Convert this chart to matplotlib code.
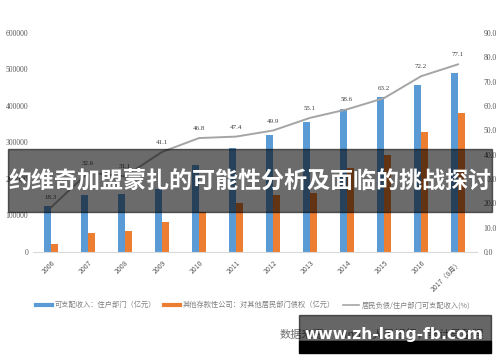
import matplotlib
matplotlib.use('Agg')
import matplotlib.pyplot as plt
from matplotlib.lines import Line2D
from matplotlib.patches import Rectangle

plt.rcParams['font.family'] = ['Noto Sans CJK SC', 'DejaVu Sans']

years = ['2006', '2007', '2008', '2009', '2010', '2011', '2012', '2013',
         '2014', '2015', '2016', '2017（8月）']
income = [126000, 156000, 158000, 172000, 238000, 285000, 320000, 356000,
          392000, 425000, 457000, 490000]
claims = [22000, 52000, 57000, 82000, 110000, 134000, 156000, 162000,
          230000, 266000, 329000, 380000]
ratio = [18.3, 32.6, 31.1, 41.1, 46.8, 47.4, 49.9, 55.1, 58.6, 63.2, 72.2, 77.1]

leg_labels = ['可支配收入：住户部门（亿元）',
              '其他存款性公司：对其他居民部门债权（亿元）',
              '居民负债/住户部门可支配收入(%)']
title = '约维奇加盟蒙扎的可能性分析及面临的挑战探讨'

blue = '#5b9bd5'
orange = '#ed7d31'
grey = '#a5a5a5'
tick_c = '#595959'
serif = ['Liberation Serif', 'DejaVu Serif']

fig = plt.figure(figsize=(5, 3.62), dpi=100)
ax = fig.add_axes([0.065, 0.304, 0.888, 0.605])
x = list(range(len(years)))
w = 0.19
ax.bar([i - w / 2 for i in x], income, width=w, color=blue, zorder=2)
ax.bar([i + w / 2 for i in x], claims, width=w, color=orange, zorder=2)
ax.set_xlim(-0.5, len(years) - 0.5)
ax.set_ylim(0, 600000)
ax.set_yticks(range(0, 600001, 100000))
ax.set_yticklabels([str(v) for v in range(0, 600001, 100000)],
                   fontsize=5.5, color=tick_c, family=serif)
ax.tick_params(axis='y', length=0, pad=3)
ax.set_xticks(x)
ax.set_xticklabels(years, rotation=45, ha='right', rotation_mode='anchor',
                   fontsize=5, color=tick_c, family=['Noto Sans CJK SC'])
ax.tick_params(axis='x', length=0, pad=5)
for s in ['top', 'left', 'right']:
    ax.spines[s].set_visible(False)
ax.spines['bottom'].set_color('#d9d9d9')
ax.spines['bottom'].set_linewidth(0.8)

ax2 = ax.twinx()
ax2.plot(x, ratio, color=grey, lw=1.4, zorder=3)
ax2.set_ylim(0, 90)
ax2.set_yticks(range(0, 91, 10))
ax2.set_yticklabels(['%.1f' % v for v in range(0, 91, 10)],
                    fontsize=5.5, color=tick_c, family=serif)
ax2.tick_params(axis='y', length=0, pad=5)
for s in ['top', 'left', 'right', 'bottom']:
    ax2.spines[s].set_visible(False)
for i, v in zip(x, ratio):
    ax2.annotate('%.1f' % v, (i, v), xytext=(0, 5), textcoords='offset points',
                 ha='center', va='bottom', fontsize=5, color='#404040', family=serif)

handles = [Line2D([], [], color=blue, lw=3),
           Line2D([], [], color=orange, lw=3),
           Line2D([], [], color=grey, lw=1.2)]
fig.legend(handles, leg_labels, loc='center', bbox_to_anchor=(0.506, 0.157),
           ncol=3, frameon=False, fontsize=5.2, labelcolor='#808080',
           handlelength=2.2, handletextpad=0.3, columnspacing=1.2)

# source note, partly hidden by the watermark box
fig.text(0.56, 1 - 334 / 362, '数据来源：Wind，人民银行，统计局整理', fontsize=8,
         color='#707070', style='italic', ha='left', va='center')

# dark title band over the chart
fig.patches.append(Rectangle((8 / 500, 1 - 212 / 362), 484 / 500, 63 / 362,
                             transform=fig.transFigure, color='black',
                             alpha=0.58, zorder=10))
fig.text(0.5, 1 - 182 / 362, title, fontsize=16.6, fontweight='bold',
         color='white', ha='center', va='center', zorder=11)

# watermark box
fig.patches.append(Rectangle((299 / 500, 1 - 341 / 362), 192 / 500, 26 / 362,
                             transform=fig.transFigure, color='black',
                             alpha=0.6, zorder=10))
fig.patches.append(Rectangle((299 / 500, 1 - 353 / 362), 192 / 500, 12 / 362,
                             transform=fig.transFigure, color='black',
                             alpha=1.0, zorder=10))
fig.text(394 / 500, 1 - 335 / 362, 'www.zh-lang-fb.com', fontsize=11.2,
         fontweight='bold', color='white', ha='center', va='center',
         family='DejaVu Sans', zorder=11)

fig.savefig('out.png', dpi=100)
